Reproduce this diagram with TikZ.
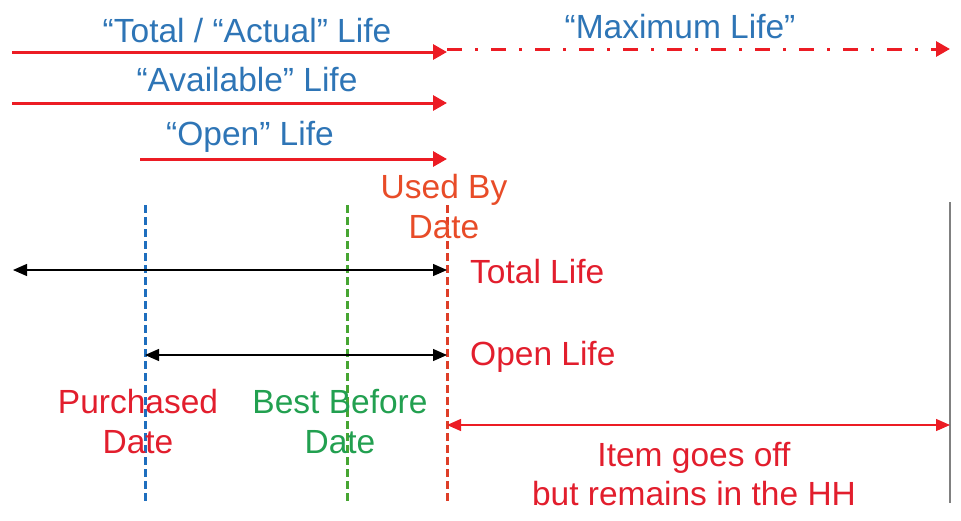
\documentclass[tikz,border=0pt]{standalone}
\usepackage{fontspec}
\setmainfont{Liberation Sans}
\usetikzlibrary{arrows.meta}
\definecolor{lifeblue}{RGB}{46,117,182}
\definecolor{arrowred}{RGB}{236,28,36}
\definecolor{labelred}{RGB}{226,30,45}
\definecolor{useorange}{RGB}{232,76,40}
\definecolor{bestgreen}{RGB}{34,160,80}
\definecolor{greenline}{RGB}{70,165,50}
\definecolor{blueline}{RGB}{30,110,190}
\definecolor{usedline}{RGB}{222,62,40}
\begin{document}
\begin{tikzpicture}[x=1pt,y=-1pt,
  lbl/.style={inner sep=0pt,anchor=base,font=\fontsize{33.5}{40}\selectfont},
  lifearrow/.style={draw=arrowred,line width=3pt,-{Triangle[length=14pt,width=15pt]}},
  maxarrow/.style={draw=arrowred,line width=3pt,dash pattern=on 15pt off 13pt on 3pt off 13pt,-{Triangle[length=14pt,width=15pt]}},
  span/.style={draw=black,line width=1.3pt,{Triangle[length=14pt,width=12pt]}-{Triangle[length=14pt,width=12pt]}},
  offspan/.style={draw=arrowred,line width=1.3pt,{Triangle[length=14pt,width=12pt]}-{Triangle[length=14pt,width=12pt]}},
  dateline/.style={line width=3pt,dash pattern=on 8pt off 4pt}]
\useasboundingbox (0,0) rectangle (961,520);

% life arrows along the top
\coordinate (tA) at (12,52);
\coordinate (tB) at (447,52);
\coordinate (mA) at (447,49);
\coordinate (mB) at (950,49);
\coordinate (aA) at (12,103);
\coordinate (aB) at (447,103);
\coordinate (oA) at (140,159);
\coordinate (oB) at (447,159);
\draw[lifearrow] (tA) -- (tB);
\draw[maxarrow] (mA) -- (mB);
\draw[lifearrow] (aA) -- (aB);
\draw[lifearrow] (oA) -- (oB);
\node[lbl,text=lifeblue] (totalTxt) at (247,42) {“Total / “Actual” Life};
\node[lbl,text=lifeblue] (maxTxt) at (680,38) {“Maximum Life”};
\node[lbl,text=lifeblue] (availTxt) at (247,91) {“Available” Life};
\node[lbl,text=lifeblue] (openTxt) at (250,145) {“Open” Life};

% date markers
\coordinate (purTop) at (145,205);
\coordinate (purBot) at (145,503);
\coordinate (bbTop) at (347,205);
\coordinate (bbBot) at (347,503);
\coordinate (ubTop) at (447,205);
\coordinate (ubBot) at (447,503);
\coordinate (endTop) at (950,202);
\coordinate (endBot) at (950,503);
\draw[dateline,draw=blueline] (purTop) -- (purBot);
\draw[dateline,draw=greenline] (bbTop) -- (bbBot);
\draw[dateline,draw=usedline] (ubTop) -- (ubBot);
\draw[draw=gray,line width=2pt] (endTop) -- (endBot);

% spans between dates
\coordinate (tlA) at (13,270);
\coordinate (tlB) at (447,270);
\coordinate (olA) at (145,355);
\coordinate (olB) at (447,355);
\coordinate (goA) at (447,425);
\coordinate (goB) at (950,425);
\draw[span] (tlA) -- (tlB);
\draw[span] (olA) -- (olB);
\draw[offspan] (goA) -- (goB);

% labels (multi-line nodes sit on the baseline of their last line)
\node[lbl,text=useorange,align=center] (usedTxt) at (444,238) {Used By\\Date};
\node[lbl,text=labelred,anchor=base west] (tlTxt) at (470,283) {Total Life};
\node[lbl,text=labelred,anchor=base west] (olTxt) at (470,365) {Open Life};
\node[lbl,text=labelred,align=center] (purTxt) at (138,453) {Purchased\\Date};
\node[lbl,text=bestgreen,align=center] (bbTxt) at (340,453) {Best Before\\Date};
\node[lbl,text=labelred,align=center,font=\fontsize{33.5}{39}\selectfont] (goTxt) at (694,505) {Item goes off\\but remains in the HH};
\end{tikzpicture}
\end{document}
